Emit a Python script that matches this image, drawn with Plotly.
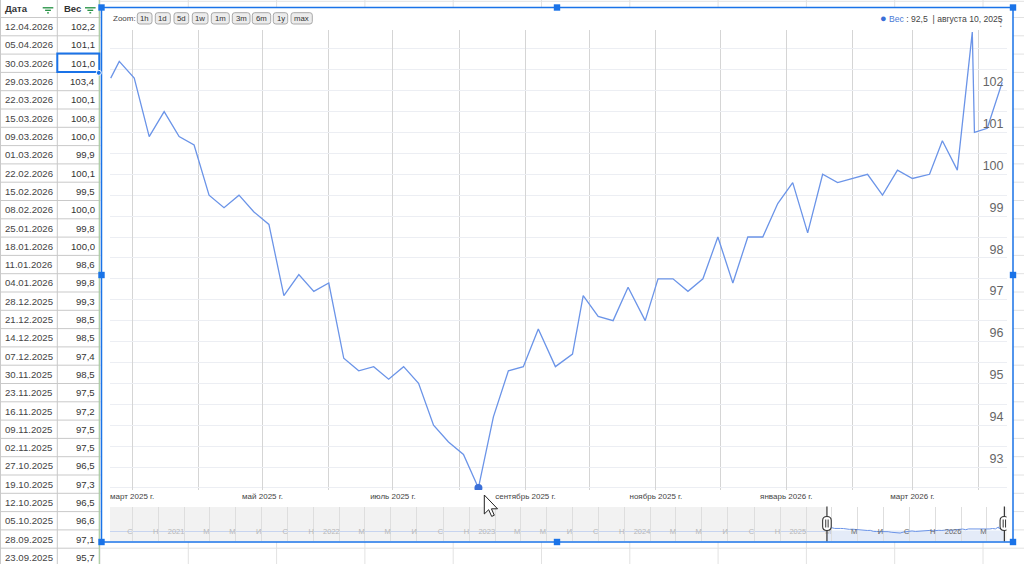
import plotly.graph_objects as go
from datetime import datetime, timedelta

W, H = 1024, 564

# ---------------- data ----------------
dates = [
    "2025-02-19", "2025-02-23", "2025-03-02", "2025-03-09", "2025-03-16",
    "2025-03-23", "2025-03-30", "2025-04-06", "2025-04-13", "2025-04-20",
    "2025-04-27", "2025-05-04", "2025-05-11", "2025-05-18", "2025-05-25",
    "2025-06-01", "2025-06-08", "2025-06-15", "2025-06-22", "2025-06-29",
    "2025-07-06", "2025-07-13", "2025-07-20", "2025-07-27", "2025-08-03",
    "2025-08-10", "2025-08-17", "2025-08-24", "2025-08-31", "2025-09-07",
    "2025-09-15", "2025-09-23", "2025-09-28", "2025-10-05", "2025-10-12",
    "2025-10-19", "2025-10-27", "2025-11-02", "2025-11-09", "2025-11-16",
    "2025-11-23", "2025-11-30", "2025-12-07", "2025-12-14", "2025-12-21",
    "2025-12-28", "2026-01-04", "2026-01-11", "2026-01-18", "2026-01-25",
    "2026-02-08", "2026-02-15", "2026-02-22", "2026-03-01", "2026-03-09",
    "2026-03-15", "2026-03-22", "2026-03-29", "2026-03-30", "2026-04-05",
    "2026-04-12",
]
weights = [
    102.3, 102.7, 102.3, 100.9, 101.5,
    100.9, 100.7, 99.5, 99.2, 99.5,
    99.1, 98.8, 97.1, 97.6, 97.2,
    97.4, 95.6, 95.3, 95.4, 95.1,
    95.4, 95.0, 94.0, 93.6, 93.3,
    92.5, 94.2, 95.3, 95.4, 96.3,
    95.4, 95.7, 97.1, 96.6, 96.5,
    97.3, 96.5, 97.5, 97.5, 97.2,
    97.5, 98.5, 97.4, 98.5, 98.5,
    99.3, 99.8, 98.6, 100.0, 99.8,
    100.0, 99.5, 100.1, 99.9, 100.0,
    100.8, 100.1, 103.4, 101.0, 101.1,
    102.2,
]
x_tick_vals = ["2025-03-01", "2025-05-01", "2025-07-01", "2025-09-01",
               "2025-11-01", "2026-01-01", "2026-03-01"]
x_tick_text = ["март 2025 г.", "май 2025 г.", "июль 2025 г.", "сентябрь 2025 г.",
               "ноябрь 2025 г.", "январь 2026 г.", "март 2026 г."]
y_tick_vals = [93, 94, 95, 96, 97, 98, 99, 100, 101, 102]
nav_letters = {9: "С", 11: "Н", 3: "М", 5: "М", 7: "И"}
zoom_labels = ["1h", "1d", "5d", "1w", "1m", "3m", "6m", "1y", "max"]
months_gen = ["января", "февраля", "марта", "апреля", "мая", "июня", "июля",
              "августа", "сентября", "октября", "ноября", "декабря"]
highlight_date = "2025-08-10"
table_rows = 30
header_labels = ["Дата", "Вес"]

# ---------------- helpers ----------------
def X(px):
    return px / W


def Y(py):
    return 1 - py / H


shapes = []
annotations = []


def hline(x0, x1, y, color, width=1, layer="below"):
    shapes.append(dict(type="line", xref="paper", yref="paper", x0=X(x0), x1=X(x1),
                       y0=Y(y), y1=Y(y), line=dict(color=color, width=width), layer=layer))


def vline(x, y0, y1, color, width=1, layer="below"):
    shapes.append(dict(type="line", xref="paper", yref="paper", x0=X(x), x1=X(x),
                       y0=Y(y0), y1=Y(y1), line=dict(color=color, width=width), layer=layer))


def rect(x0, y0, x1, y1, fill=None, line=None, lw=1, layer="below"):
    shapes.append(dict(type="rect", xref="paper", yref="paper", x0=X(x0), x1=X(x1),
                       y0=Y(y1), y1=Y(y0), fillcolor=fill or "rgba(0,0,0,0)",
                       line=dict(color=line or "rgba(0,0,0,0)", width=lw if line else 0),
                       layer=layer))


def rrect_path(x0, y0, x1, y1, r):
    return (f"M {X(x0+r)},{Y(y0)} L {X(x1-r)},{Y(y0)} Q {X(x1)},{Y(y0)} {X(x1)},{Y(y0+r)} "
            f"L {X(x1)},{Y(y1-r)} Q {X(x1)},{Y(y1)} {X(x1-r)},{Y(y1)} "
            f"L {X(x0+r)},{Y(y1)} Q {X(x0)},{Y(y1)} {X(x0)},{Y(y1-r)} "
            f"L {X(x0)},{Y(y0+r)} Q {X(x0)},{Y(y0)} {X(x0+r)},{Y(y0)} Z")


def text(x, y, s, size=9.5, color="#333", xanchor="left", bold=False, family="Liberation Sans, Arial"):
    annotations.append(dict(xref="paper", yref="paper", x=X(x), y=Y(y), text=(f"<b>{s}</b>" if bold else s),
                            showarrow=False, xanchor=xanchor, yanchor="middle",
                            font=dict(size=size, color=color, family=family)))


# ---------------- spreadsheet background ----------------
row_h = 18.3
row_top0 = 17.5
grid_light = "#e2e2e2"
table_line = "#c9c9c9"
for k in range(table_rows + 1):
    yy = row_top0 + row_h * k
    hline(100, W, yy, grid_light)
    hline(0, 100, yy, table_line)
hline(100, W, 1.3, grid_light)
for j in range(0, 12):
    vline(100 + 88.3 * j, 0, H, grid_light)
vline(0.5, 0, H, table_line)
vline(57.3, 0, H, table_line)
vline(99.3, 0, H, "#a9cba0", 1.2)

# header
text(3.3, 8.6, header_labels[0], 9.5, "#333", bold=True)
text(61.7, 8.6, header_labels[1], 9.5, "#333", bold=True)
for fx in (42.7, 85.0):
    for i, (a, b) in enumerate([(0, 10.6), (2.4, 8.2), (4.4, 6.2)]):
        hline(fx + a, fx + b, 7.8 + 2.5 * i, "#1e8e3e", 1.3, layer="above")

# table rows (newest first)
for k in range(table_rows):
    idx = len(dates) - 1 - k
    d = datetime.strptime(dates[idx], "%Y-%m-%d")
    yc = 26.7 + row_h * k
    text(3.3, yc, d.strftime("%d.%m.%Y"), 9.6, "#444")
    text(96.8, yc, f"{weights[idx]:.1f}".replace(".", ","), 9.6, "#333", xanchor="right")

# ---------------- chart container ----------------
rect(101.5, 7.5, 1013, 542, fill="white")
rect(110, 507, 1006.5, 541, fill="#f2f2f2")
hline(110, 826, 531.5, "#c7d4ef", 1)
shapes.append(dict(type="rect", xref="x2", yref="paper", x0=dates[0], x1=dates[-1],
                   y0=Y(541), y1=Y(507), fillcolor="white", line=dict(width=0), layer="below"))
shapes.append(dict(type="rect", xref="x2", yref="paper", x0=dates[0], x1=dates[-1],
                   y0=Y(541), y1=Y(530.5), fillcolor="#e4ebf8", line=dict(width=0), layer="below"))

# zoom row
text(111, 18.3, "Zoom:", 8, "#444")
btn_pos = [(137.3, 152), (155.3, 170.3), (174, 188.7), (192.3, 208), (211.3, 229.3),
           (232.3, 250), (252.3, 270.7), (273.3, 287.7), (291, 312.3)]
for (bx0, bx1), lab in zip(btn_pos, zoom_labels):
    shapes.append(dict(type="path", xref="paper", yref="paper", path=rrect_path(bx0, 12.7, bx1, 24, 2.5),
                       fillcolor="#ececec", line=dict(color="#a8a8a8", width=1), layer="below"))
    text((bx0 + bx1) / 2, 18.5, lab, 7.8, "#333", xanchor="center")

# legend / tooltip line
hi = dates.index(highlight_date)
hd = datetime.strptime(highlight_date, "%Y-%m-%d")
val_txt = f"{weights[hi]:.1f}".replace(".", ",")
legend_txt = (f'<span style="color:#3a6fd8;font-size:11px">●</span> <span style="color:#4a7ad6">Вес</span>'
              f' : {val_txt}  | {months_gen[hd.month - 1]} {hd.day}, {hd.year}')
text(1005, 18, legend_txt, 8.6, "#444", xanchor="right")
text(1000.5, 22, "⋮", 10, "#777", xanchor="center", family="DejaVu Sans")

# navigator handles
for dv in (dates[0], dates[-1]):
    shapes.append(dict(type="line", xref="x2", yref="paper", x0=dv, x1=dv, y0=Y(541.5), y1=Y(506.5),
                       line=dict(color="#333", width=1.2), layer="above"))
    shapes.append(dict(type="path", xref="x2", yref="paper", xsizemode="pixel", xanchor=dv,
                       path=(f"M -4.3,{Y(520.5)} Q -4.3,{Y(516.5)} 0,{Y(516.5)} Q 4.3,{Y(516.5)} 4.3,{Y(520.5)} "
                             f"L 4.3,{Y(526.5)} Q 4.3,{Y(530.5)} 0,{Y(530.5)} Q -4.3,{Y(530.5)} -4.3,{Y(526.5)} Z"),
                       fillcolor="white", line=dict(color="#333", width=1.1), layer="above"))
    for off in (-1.2, 1.2):
        shapes.append(dict(type="path", xref="x2", yref="paper", xsizemode="pixel", xanchor=dv,
                           path=f"M {off},{Y(519.5)} L {off},{Y(527.5)}",
                           line=dict(color="#333", width=1), layer="above"))

# chart border + handles
rect(101.5, 7.5, 1013, 542, line="#1a73e8", lw=1.5, layer="above")
for hx, hy in [(101.5, 7.5), (557, 7.5), (1013, 7.5), (101.5, 275), (1013, 275),
               (101.5, 542), (557, 542), (1013, 542)]:
    rect(hx - 3.2, hy - 3.2, hx + 3.2, hy + 3.2, fill="#1a73e8", layer="above")

# selected cell
rect(57.3, 53.5, 99.3, 72, line="#1a73e8", lw=2, layer="above")
shapes.append(dict(type="circle", xref="paper", yref="paper", x0=X(96.3), x1=X(101.3), y0=Y(75.3), y1=Y(70.3),
                   fillcolor="#1a73e8", line=dict(color="white", width=1), layer="above"))

# mouse cursor
cx, cy, s = 484.3, 495.0, 1.15
pts = [(0, 0), (0, 16.5), (3.8, 12.8), (6.4, 18.6), (8.7, 17.6), (6.2, 12.0), (11.5, 12.0)]
cpath = "M " + " L ".join(f"{X(cx + px * s)},{Y(cy + py * s)}" for px, py in pts) + " Z"
shapes.append(dict(type="path", xref="paper", yref="paper", path=cpath, fillcolor="white",
                   line=dict(color="#222", width=1), layer="above"))

# ---------------- navigator ticks ----------------
nav_tick_vals, nav_tick_text = [], []
first_d = datetime.strptime(dates[0], "%Y-%m-%d")
yy_, mm_ = 2020, 9
while (yy_, mm_) <= (2026, 3):
    tv = datetime(yy_, mm_, 1)
    lab = str(yy_) if mm_ == 1 else nav_letters[mm_]
    col = "#666" if tv - timedelta(days=20) >= first_d else "#b8b8b8"
    nav_tick_vals.append(tv.strftime("%Y-%m-%d"))
    nav_tick_text.append(f'<span style="color:{col}">{lab}</span>')
    mm_ += 2
    if mm_ > 12:
        mm_ -= 12
        yy_ += 1

# ---------------- figure ----------------
line_color = "#6b94e8"
fig = go.Figure()
fig.add_trace(go.Scatter(x=dates, y=weights, mode="lines", line=dict(color=line_color, width=1.3),
                         hoverinfo="skip", showlegend=False))
fig.add_trace(go.Scatter(x=[dates[hi]], y=[weights[hi]], mode="markers",
                         marker=dict(color="#3a6fd8", size=8), hoverinfo="skip", showlegend=False))
fig.add_trace(go.Scatter(x=dates, y=weights, mode="lines", xaxis="x2", yaxis="y2",
                         line=dict(color=line_color, width=1), hoverinfo="skip", showlegend=False))

grid_v = "#d5d5d5"
grid_h = "#eceef3"
fig.update_layout(
    width=W, height=H, margin=dict(l=0, r=0, t=0, b=0),
    paper_bgcolor="white", plot_bgcolor="rgba(0,0,0,0)",
    template="none", hovermode=False, showlegend=False,
    font=dict(family="Liberation Sans, Arial", color="#444"),
    xaxis=dict(type="date", domain=[X(110), X(1006.5)], range=["2025-02-18 16:00", "2026-04-14"],
               tickmode="array", tickvals=x_tick_vals, ticktext=x_tick_text,
               tickfont=dict(size=8, color="#444"), ticks="", showline=False, zeroline=False,
               showgrid=True, gridcolor=grid_v, gridwidth=1,
               minor=dict(dtick="M1", tick0="2025-01-01", showgrid=True, gridcolor=grid_v, gridwidth=1, ticks=""),
               automargin=False, fixedrange=True, anchor="y"),
    yaxis=dict(domain=[Y(490), Y(30)], range=[92.45, 103.45], side="right",
               tickmode="array", tickvals=y_tick_vals, ticklabelposition="inside top",
               tickfont=dict(size=12.5, color="#666"), ticks="", showline=False, zeroline=False,
               showgrid=True, gridcolor=grid_h, gridwidth=1,
               minor=dict(dtick=0.5, tick0=92, showgrid=True, gridcolor=grid_h, gridwidth=1, ticks=""),
               automargin=False, fixedrange=True, anchor="x"),
    xaxis2=dict(type="date", domain=[X(110), X(1006.5)], range=["2020-07-10", "2026-04-17"],
                tickmode="array", tickvals=nav_tick_vals, ticktext=nav_tick_text,
                ticklabelposition="inside left", tickfont=dict(size=7.5, color="#999"),
                ticks="", showline=False, zeroline=False, showgrid=True, gridcolor="#dedede",
                automargin=False, fixedrange=True, anchor="y2"),
    yaxis2=dict(domain=[Y(541), Y(507)], range=[78, 140], visible=False, showgrid=False,
                zeroline=False, automargin=False, fixedrange=True, anchor="x2"),
    shapes=shapes, annotations=annotations,
)

fig.write_html("out.html", config={"displayModeBar": False, "staticPlot": True},
               post_script="document.body.style.margin='0';document.body.style.overflow='hidden';")
